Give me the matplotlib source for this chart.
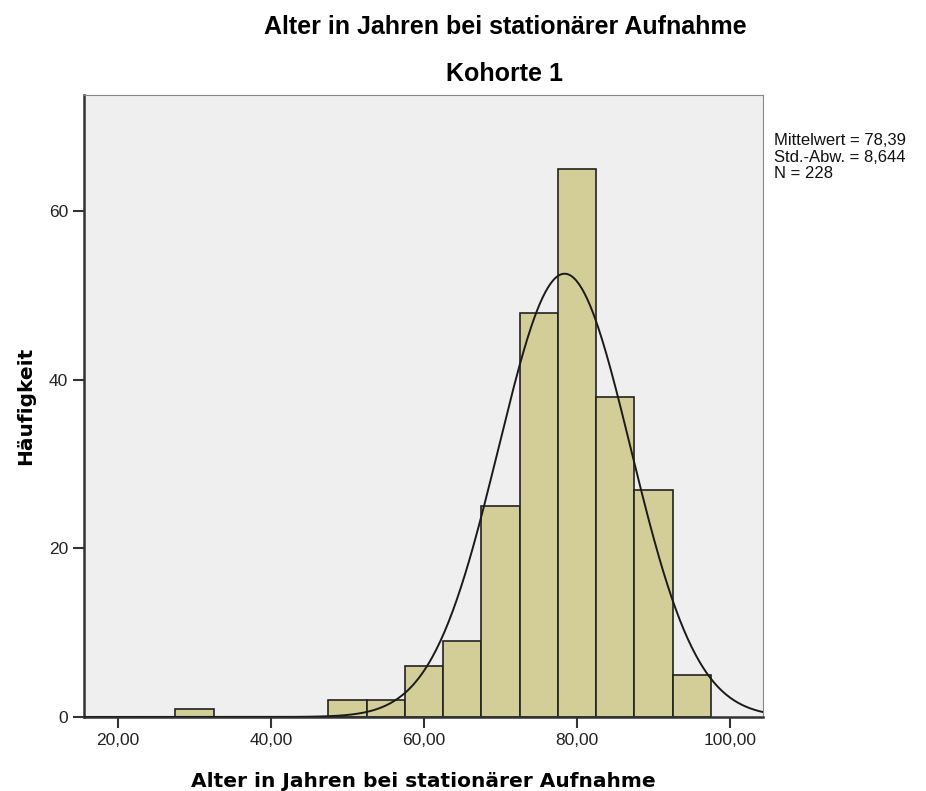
import matplotlib.pyplot as plt
import numpy as np

plt.rcParams['font.family'] = ['Liberation Sans', 'DejaVu Sans']

# Klassen (Breite 5) und Häufigkeiten
bin_left = [27.5, 47.5, 52.5, 57.5, 62.5, 67.5, 72.5, 77.5, 82.5, 87.5, 92.5]
counts = [1, 2, 2, 6, 9, 25, 48, 65, 38, 27, 5]
bin_width = 5.0

mittelwert = 78.39
std_abw = 8.644
n = 228

fig = plt.figure(figsize=(9.26, 7.91), dpi=100)
ax = fig.add_axes([0.0907, 0.0936, 0.733, 0.786])
ax.set_facecolor('#efefef')

ax.bar(bin_left, counts, width=bin_width, align='edge', color='#d3ce97',
       edgecolor='#222222', linewidth=1.2, zorder=2)

# Normalverteilungskurve
xs = np.linspace(15.55, 104.3, 500)
ys = n * bin_width / (std_abw * np.sqrt(2 * np.pi)) * np.exp(-0.5 * ((xs - mittelwert) / std_abw) ** 2)
ax.plot(xs, ys, color='#1a1a1a', linewidth=1.4, zorder=3)

ax.set_xlim(15.55, 104.3)
ax.set_ylim(0, 73.8)
ax.set_xticks([20, 40, 60, 80, 100])
ax.set_xticklabels(['20,00', '40,00', '60,00', '80,00', '100,00'])
ax.set_yticks([0, 20, 40, 60])
ax.tick_params(axis='both', direction='out', length=8, width=1.5, color='#333333',
               labelsize=12.5, labelcolor='#222222')

for side in ['left', 'bottom']:
    ax.spines[side].set_linewidth(1.8)
    ax.spines[side].set_color('#333333')
for side in ['top', 'right']:
    ax.spines[side].set_linewidth(0.8)
    ax.spines[side].set_color('#888888')

ax.set_xlabel('Alter in Jahren bei stationärer Aufnahme', fontsize=14.5, fontweight='bold',
              family='DejaVu Sans', labelpad=17)
ax.set_ylabel('Häufigkeit', fontsize=14.5, fontweight='bold', family='DejaVu Sans', labelpad=10)

fig.text(0.5453, 0.966, 'Alter in Jahren bei stationärer Aufnahme', ha='center', va='center',
         fontsize=18, fontweight='bold')
fig.text(0.5453, 0.907, 'Kohorte 1', ha='center', va='center', fontsize=18, fontweight='bold')

fig.text(0.836, 0.832, 'Mittelwert = 78,39\nStd.-Abw. = 8,644\nN = 228',
         ha='left', va='top', fontsize=12, linespacing=1.15, color='#111111')

fig.savefig('out.png', dpi=100)
